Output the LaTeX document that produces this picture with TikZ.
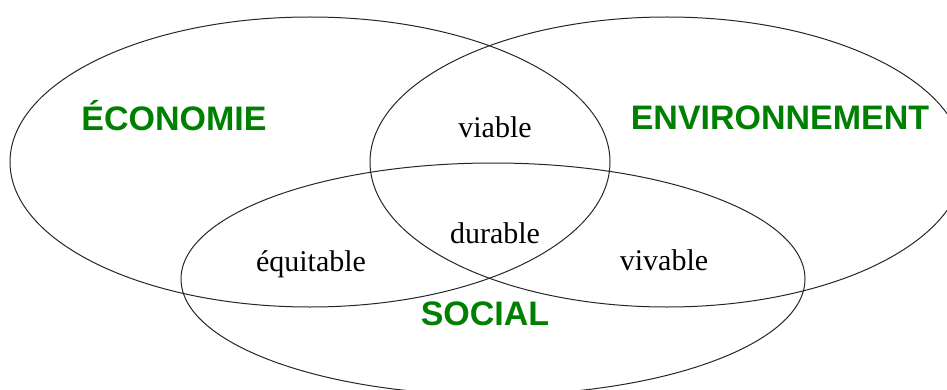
\documentclass[tikz,border=0pt]{standalone}
\usepackage{fontspec}
\setmainfont{Liberation Serif}
\newfontfamily\pillarfont{Liberation Sans}
\usepackage{tikz}
\usetikzlibrary{positioning}
\usetikzlibrary{calc}

\definecolor{pillargreen}{RGB}{0,128,0}

\tikzset{
	sphere/.style={draw=black!85, line width=0.5pt},
	pillar/.style={anchor=base, inner sep=0pt, text=pillargreen,
		font=\pillarfont\bfseries\fontsize{17}{19}\selectfont},
	quality/.style={anchor=base, inner sep=0pt,
		font=\fontsize{15}{17}\selectfont},
}

\begin{document}
\begin{tikzpicture}[x=0.5pt, y=-0.5pt]

	% ------------------------------------------------
	% Keep the page at the size of the reference
	\useasboundingbox (0,0) rectangle (947,390);
	\clip (0,0) rectangle (947,390);

	% ------------------------------------------------
	% Centres of the three spheres
	\coordinate (EcoC) at (310,162);

	\path (EcoC) +(357,0)   coordinate (EnvC);
	\path (EcoC) +(183,117) coordinate (SocC);

	% ----------------
	% Spheres
	\draw[sphere] (EcoC) ellipse [x radius=150pt, y radius=72.5pt];
	\draw[sphere] (EnvC) ellipse [x radius=148.5pt, y radius=72.5pt];
	\draw[sphere] (SocC) ellipse [x radius=156pt, y radius=58pt];

	%%%%%%%%%%%%%%%%%%%%%%%%%%%%%%%%%%%%%%%%%
	% Pillars
	\node[pillar] (Eco) at (174,131) {ÉCONOMIE};
	\node[pillar] (Env) at (780,130) {ENVIRONNEMENT};
	\node[pillar] (Soc) at (485,325) {SOCIAL};

	% ----------------
	% Overlaps
	\node[quality] (Viable)    at (495,137) {viable};
	\node[quality] (Durable)   at (495,243) {durable};
	\node[quality] (Equitable) at (311,271) {équitable};
	\node[quality] (Vivable)   at (664,270) {vivable};

\end{tikzpicture}
\end{document}
